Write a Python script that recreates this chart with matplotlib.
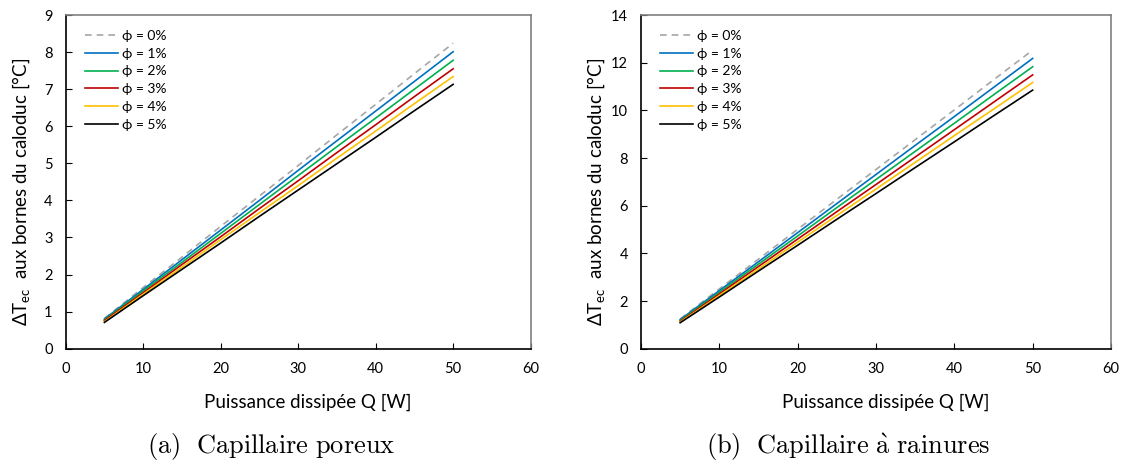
import matplotlib
matplotlib.use("Agg")
import matplotlib.pyplot as plt

# ---------------------------------------------------------------------------
# Data
# ---------------------------------------------------------------------------
puissance = [5, 10, 15, 20, 25, 30, 35, 40, 45, 50]
labels = ["ϕ = 0%", "ϕ = 1%", "ϕ = 2%", "ϕ = 3%", "ϕ = 4%", "ϕ = 5%"]

# (a) capillaire poreux
dT_poreux = [
    [0.82, 1.65, 2.47, 3.30, 4.12, 4.94, 5.77, 6.59, 7.42, 8.24],
    [0.80, 1.60, 2.40, 3.20, 4.00, 4.81, 5.61, 6.41, 7.21, 8.01],
    [0.78, 1.56, 2.33, 3.11, 3.89, 4.67, 5.45, 6.22, 7.00, 7.78],
    [0.76, 1.51, 2.27, 3.02, 3.78, 4.53, 5.29, 6.04, 6.80, 7.55],
    [0.73, 1.47, 2.20, 2.94, 3.67, 4.40, 5.14, 5.87, 6.61, 7.34],
    [0.71, 1.43, 2.14, 2.85, 3.57, 4.28, 4.99, 5.70, 6.42, 7.13],
]

# (b) capillaire a rainures
dT_rainures = [
    [1.25, 2.51, 3.76, 5.01, 6.27, 7.52, 8.77, 10.02, 11.28, 12.53],
    [1.22, 2.44, 3.65, 4.87, 6.09, 7.31, 8.53, 9.74, 10.96, 12.18],
    [1.18, 2.37, 3.55, 4.73, 5.92, 7.10, 8.28, 9.46, 10.65, 11.83],
    [1.15, 2.30, 3.45, 4.60, 5.75, 6.89, 8.04, 9.19, 10.34, 11.49],
    [1.12, 2.23, 3.35, 4.47, 5.59, 6.70, 7.82, 8.94, 10.05, 11.17],
    [1.09, 2.17, 3.26, 4.34, 5.43, 6.51, 7.60, 8.68, 9.77, 10.85],
]

colors = ["#A6A6A6", "#0070C0", "#00B050", "#C00000", "#FFC000", "#000000"]
styles = ["--", "-", "-", "-", "-", "-"]

plt.rcParams["font.family"] = ["Lato", "DejaVu Sans"]
plt.rcParams["mathtext.default"] = "regular"
plt.rcParams["mathtext.fontset"] = "cm"


def draw_panel(ax, series, ymax, ystep):
    for vals, lab, c, ls in zip(series, labels, colors, styles):
        ax.plot(puissance, vals, ls, color=c, lw=1.2, label=lab,
                dashes=(4, 3) if ls == "--" else (None, None))
    ax.set_xlim(0, 60)
    ax.set_ylim(0, ymax)
    ax.set_xticks(range(0, 61, 10))
    ax.set_yticks(range(0, ymax + 1, ystep))
    ax.tick_params(direction="in", length=4, labelsize=10.5, pad=9.5)
    for side in ["left", "bottom"]:
        ax.spines[side].set_color("black")
        ax.spines[side].set_linewidth(1.2)
    for side in ["top", "right"]:
        ax.spines[side].set_color("#808080")
        ax.spines[side].set_linewidth(1.2)
    ax.set_xlabel("Puissance dissipée Q [W]", fontsize=13.5)
    ax.xaxis.set_label_coords(0.52, -0.135)
    ax.set_ylabel("ΔT$_{ec}$  aux bornes du caloduc [°C]", fontsize=13.5)
    ax.yaxis.set_label_coords(-0.072, 0.47)
    ax.legend(loc="upper left", bbox_to_anchor=(0.02, 0.985), frameon=False,
              fontsize=10, handlelength=2.4, handletextpad=0.25,
              labelspacing=0.42, borderaxespad=0.3)


fig = plt.figure(figsize=(11.23, 4.66), dpi=100)
ax1 = fig.add_axes([0.0585, 0.2517, 0.414, 0.716])
ax2 = fig.add_axes([0.5708, 0.2517, 0.4185, 0.716])

draw_panel(ax1, dT_poreux, 9, 1)
draw_panel(ax2, dT_rainures, 14, 2)

fig.text(271 / 1123, 1 - 447 / 466, r"$\mathrm{(a)\ \ Capillaire\ poreux}$",
         ha="center", va="center", fontsize=19)
fig.text(848 / 1123, 1 - 447 / 466,
         r"$\mathrm{(b)\ \ Capillaire\ \grave{a}\ rainures}$",
         ha="center", va="center", fontsize=19)

fig.savefig("out.png", dpi=100)
